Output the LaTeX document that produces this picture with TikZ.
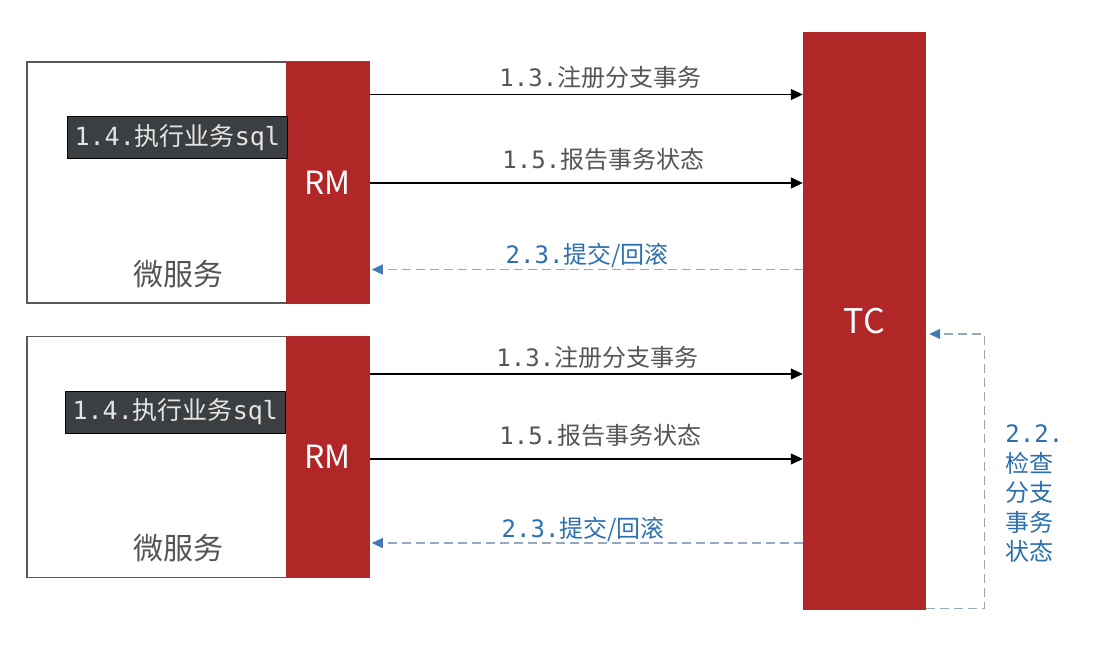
\documentclass[tikz,border=0pt]{standalone}
\usepackage{fontspec}
\setmainfont{Noto Sans CJK SC}
\newfontfamily\cjk{Noto Sans CJK SC}
\newfontfamily\mono{DejaVu Sans Mono}
\usetikzlibrary{arrows.meta,positioning}
\definecolor{rmred}{RGB}{177,39,39}
\definecolor{boxgray}{RGB}{88,88,88}
\definecolor{txtgray}{RGB}{85,85,85}
\definecolor{dashblue}{RGB}{150,168,192}
\definecolor{tipblue}{RGB}{70,120,180}
\definecolor{lblue}{RGB}{45,112,175}
\definecolor{sqlbg}{RGB}{60,63,65}
\definecolor{sqltxt}{RGB}{228,228,228}
\newcommand{\msg}[2]{{\mono #1}{\cjk #2}}

\begin{document}
\begin{tikzpicture}[x=1pt, y=-1pt, >=Latex,
  svc/.style={draw=boxgray, line width=1.6pt, minimum width=342pt, minimum height=241pt, inner sep=0pt},
  rm/.style={fill=rmred, text=white, minimum width=84pt, minimum height=242pt, inner sep=0pt, font=\fontsize{32}{36}\selectfont},
  tcbox/.style={fill=rmred, text=white, minimum width=123pt, minimum height=578pt, inner sep=0pt, font=\fontsize{34}{38}\selectfont},
  sql/.style={draw=black, line width=0.8pt, fill=sqlbg, text=sqltxt, minimum height=42pt, inner xsep=7pt, font=\fontsize{25}{28}\selectfont},
  svclab/.style={text=txtgray, font=\fontsize{30}{34}\selectfont},
  lab/.style={text=txtgray, inner sep=0pt, font=\fontsize{24}{28}\selectfont},
  blab/.style={text=lblue, inner sep=0pt, font=\fontsize{24}{28}\selectfont},
  ar/.style={-{Triangle[length=12pt, width=11pt]}, line width=1.2pt, draw=black},
  back/.style={-{Triangle[length=11pt, width=10pt, color=tipblue]}, line width=1.4pt, draw=dashblue, dash pattern=on 9pt off 5pt}]
\fill[white] (0,0) rectangle (1117,667);
\useasboundingbox (0,0) rectangle (1117,667);
% micro services
\node[svc] (svc1) at (198,182.5) {};
\node[rm, anchor=east] (rm1) at (svc1.east) {RM};
\node[sql, anchor=east] (sql1) at ([xshift=2pt, yshift=45pt]rm1.west) {\msg{1.4.}{执行业务}{\mono sql}};
\node[svclab] (ms1) at ([xshift=-20pt, yshift=30pt]svc1.south) {微服务};
\node[svc] (svc2) at (198,457) {};
\node[rm, anchor=east] (rm2) at (svc2.east) {RM};
\node[sql, anchor=east] (sql2) at ([yshift=45pt]rm2.west) {\msg{1.4.}{执行业务}{\mono sql}};
\node[svclab] (ms2) at ([xshift=-20pt, yshift=30pt]svc2.south) {微服务};
\node[tcbox] (tc) at (864.5,321) {TC};
% branch messages
\coordinate (a1) at ([yshift=88pt]rm1.east);
\coordinate (a2) at ([yshift=-0.5pt]rm1.east);
\coordinate (a3) at ([yshift=-87pt]rm1.east);
\coordinate (b1) at ([yshift=83pt]rm2.east);
\coordinate (b2) at ([yshift=-2pt]rm2.east);
\coordinate (b3) at ([yshift=-86pt]rm2.east);
\draw[ar] (a1) -- (a1 -| tc.west) node[lab, midway, above=5pt, xshift=14pt] {\msg{1.3.}{注册分支事务}};
\draw[ar] (a2) -- (a2 -| tc.west) node[lab, midway, above=12pt, xshift=17pt] {\msg{1.5.}{报告事务状态}};
\draw[back] (a3 -| tc.west) -- ([xshift=2pt]a3) node[blab, midway, above=1pt] {\msg{2.3.}{提交/回滚}};
\draw[ar] (b1) -- (b1 -| tc.west) node[lab, midway, above=5pt, xshift=11pt] {\msg{1.3.}{注册分支事务}};
\draw[ar] (b2) -- (b2 -| tc.west) node[lab, midway, above=12pt, xshift=14pt] {\msg{1.5.}{报告事务状态}};
\draw[back] (b3 -| tc.west) -- ([xshift=2pt]b3) node[blab, midway, above=1pt, xshift=-4pt] {\msg{2.3.}{提交/回滚}};
% status check loop
\draw[back] ([yshift=1.5pt]tc.south east) -- ++(58,0) coordinate (lp) |- ([xshift=3pt, yshift=-13pt]tc.east);
\node[blab, anchor=north west, align=left, font=\fontsize{24}{29.5}\selectfont] (chk) at ([xshift=21pt, yshift=184pt]lp) {\mono 2.2.\\\cjk 检查\\\cjk 分支\\\cjk 事务\\\cjk 状态};
\end{tikzpicture}
\end{document}
